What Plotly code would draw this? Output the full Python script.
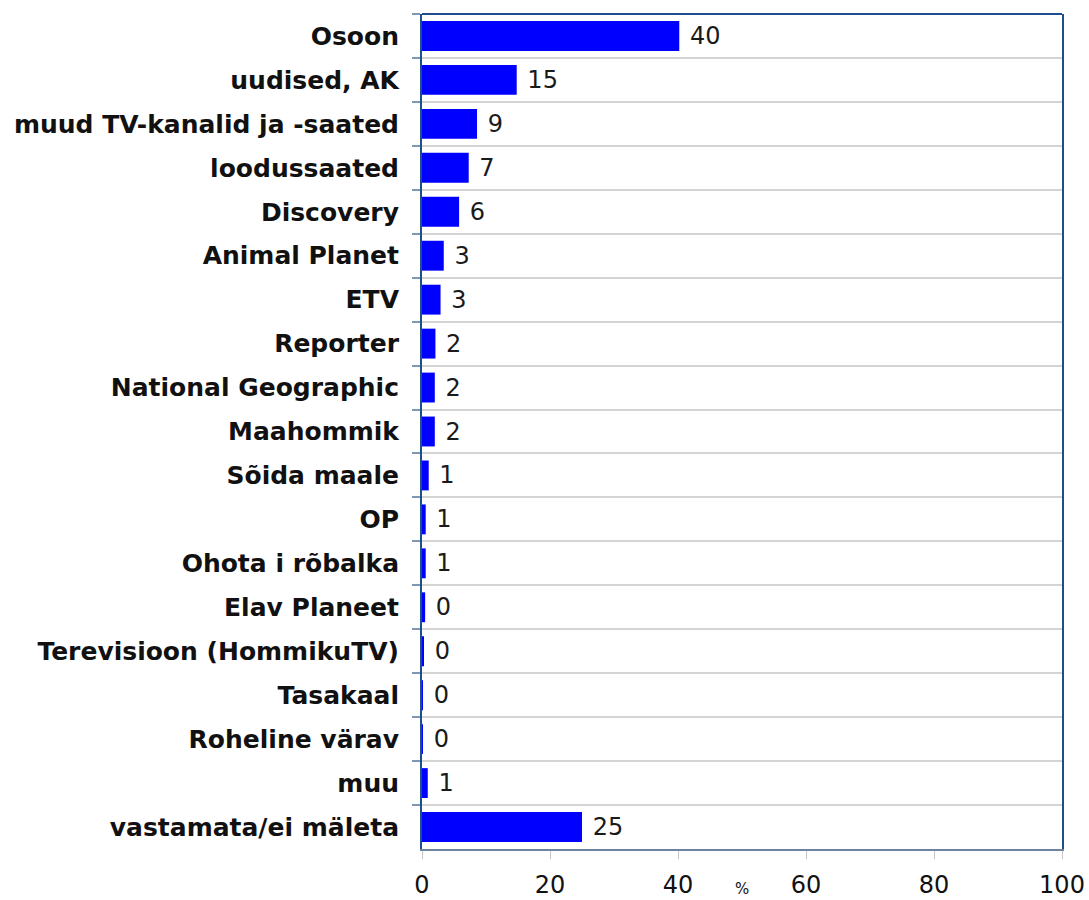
import plotly.graph_objects as go

categories = [
    "Osoon", "uudised, AK", "muud TV-kanalid ja -saated", "loodussaated",
    "Discovery", "Animal Planet", "ETV", "Reporter", "National Geographic",
    "Maahommik", "Sõida maale", "OP", "Ohota i rõbalka", "Elav Planeet",
    "Terevisioon (HommikuTV)", "Tasakaal", "Roheline värav", "muu",
    "vastamata/ei mäleta",
]
values = [40.2, 14.8, 8.6, 7.3, 5.8, 3.4, 2.9, 2.1, 2.0, 2.0, 1.05, 0.58,
          0.58, 0.49, 0.2, 0.1, 0.1, 0.9, 25.0]
x_ticks = [0, 20, 40, 60, 80, 100]
x_title = "%"

fig = go.Figure(go.Bar(
    x=values, y=categories, orientation="h",
    marker=dict(color="#0000ff", line=dict(width=0)),
    texttemplate="\u00a0%{x:.0f}", textposition="outside",
    textfont=dict(family="DejaVu Sans", size=24, color="#1a1a1a"),
    cliponaxis=False,
))

fig.update_layout(
    width=1089, height=900,
    margin=dict(l=422, r=27, t=14, b=51, autoexpand=False),
    paper_bgcolor="white", plot_bgcolor="white",
    bargap=0.32, showlegend=False,
    font=dict(family="DejaVu Sans", color="#111111"),
    xaxis=dict(
        range=[0, 100], tickvals=x_ticks, ticktext=[str(v) for v in x_ticks],
        showgrid=False, zeroline=False, automargin=False,
        showline=True, linecolor="#6d83a0", linewidth=2,
        ticks="outside", ticklen=8, tickwidth=1, tickcolor="#c8c8c8",
        tickfont=dict(family="DejaVu Sans", size=24, color="#111111"),
        ticklabelstandoff=5,
    ),
    yaxis=dict(
        autorange="reversed", type="category", automargin=False,
        tickson="boundaries", showgrid=True, gridcolor="#d4d4d4", gridwidth=1.5,
        showline=True, linecolor="#1f4e8c", linewidth=2, mirror=True,
        ticks="outside", ticklen=8, tickwidth=2, tickcolor="#7f97b5",
        tickfont=dict(family="DejaVu Sans", size=25, color="#111111", weight="bold"),
        ticklabelstandoff=16,
    ),
    shapes=[dict(type="line", xref="paper", yref="paper", x0=0, x1=1, y0=1, y1=1,
                 line=dict(color="#1f4e8c", width=2))],
    annotations=[dict(text=x_title, xref="paper", yref="paper", x=0.5, y=-0.035,
                      yanchor="top", showarrow=False,
                      font=dict(family="DejaVu Sans", size=15, color="#111111"))],
)

fig.write_html(
    "out.html",
    config={"displayModeBar": False},
    post_script="document.body.style.margin='0';document.body.style.overflow='hidden';",
)
